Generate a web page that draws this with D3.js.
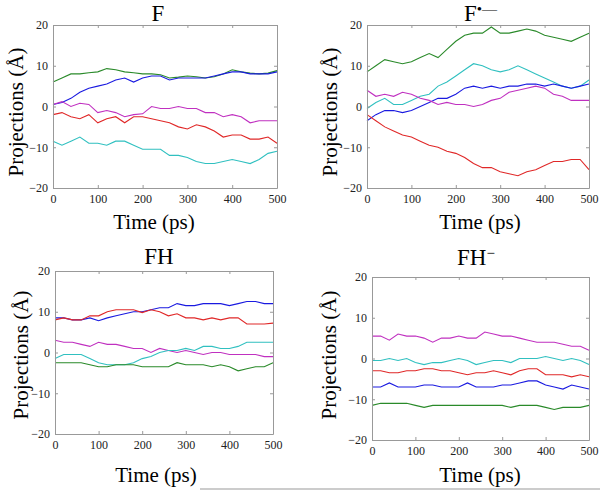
<!DOCTYPE html>
<html>
<head>
<meta charset="utf-8">
<script src="https://cdn.jsdelivr.net/npm/d3@7"></script>
<style>
  body { margin: 0; background: #fff; }
  svg text { font-family: "Liberation Serif", "Times New Roman", Times, "DejaVu Serif", serif; }
  .tick text { font-size: 12px; fill: #222; }
</style>
</head>
<body>
<svg id="chart" width="600" height="490"></svg>
<script>
// time samples (ps)
const time = [0,20,40,60,80,100,120,140,160,180,200,220,240,260,280,300,320,340,360,380,400,420,440,460,480,500];
const xTicks = [0,100,200,300,400,500];
const yTicks = [-20,-10,0,10,20];
const seriesColors = {green: '#2a8a2a', blue: '#1a1ae0', magenta: '#c030c0', red: '#e02828', cyan: '#30c0c0'};
const serif = '"Liberation Serif", "Times New Roman", Times, serif';

// panel F
const fGreen   = [6,7,8,8,8.3,8.5,9.3,9,8.5,8.3,8,8,7.8,7,7.2,7.5,7.3,7,7.3,8,9,8.5,8.2,8,8.2,8.8];
const fBlue    = [0.5,1,2,3.5,4.5,5,5.5,6.5,7,6,7,7.5,7.5,6.5,7,7,7,7,7.5,8,8.5,8.5,8,8,8,8.5];
const fMagenta = [0.5,1.2,0,0.8,0.5,-1.5,-1,-1.5,-2.5,-2,-1.8,0,-0.5,-0.5,0,-0.5,-0.5,-1.5,-1.5,-2.5,-2,-2.5,-4,-3.5,-3.5,-3.5];
const fRed     = [-2,-1.5,-2.5,-3,-2,-4,-3,-2.5,-4,-2.5,-2.5,-3,-3.5,-4,-5,-5.5,-4.5,-5,-6,-7.5,-7,-7,-8,-8,-7.5,-9];
const fCyan    = [-8.5,-9.5,-8.5,-7.5,-9,-9,-9.5,-8.5,-8.5,-9.5,-10.5,-10.5,-10.5,-12,-12,-12.5,-13.5,-14,-14,-13.5,-13,-13.5,-14,-13,-11.5,-11];

// panel F radical anion
const frGreen   = [8.5,10,11.5,11,10.5,11,12,13,12,14,16,17.5,18,18,19.5,18,18,18.5,19,18.5,17.5,17,16.5,16,17,18];
const frCyan    = [-0.5,1,2,0.5,0.5,1.5,2.5,3,5,6,7.5,9,10.5,10,9,8.5,9,10,9,8,7,6,5,4.5,5,6.5];
const frBlue    = [-3.5,-2,-1,-1,-1.5,-1,0,1,2,2,3,4.5,5,4.5,5,4.5,5,5,5.5,5.5,5,5.5,5,4.5,5,5.5];
const frMagenta = [4,2.5,3,2.5,3.5,3,2,1.5,0.5,1,0.5,0.5,0,0.5,1.5,2,3.5,4,4.5,5,4.5,3,2.5,1.5,1.5,1.5];
const frRed     = [-2,-3.5,-5,-6,-7,-7.5,-8.5,-9.5,-10,-11,-11.5,-12.5,-14,-15,-15,-16,-16.5,-17,-16,-15.5,-14.5,-13.5,-13.5,-13,-13,-15.5];

// panel FH
const fhBlue    = [8.5,8.5,8,8,8.5,7.8,8.5,9,9.5,10,10,10.5,11,11,12,11.5,11.5,12,12,12,11.5,12,12.5,12.5,12,12];
const fhRed     = [8,8.5,8,8,9,9,10,10.5,10.5,10.5,9.8,10.5,10,9,9.5,8.5,8.5,8,8.5,8,8.5,8.5,7,7,7,7.2];
const fhMagenta = [3,2.5,2.5,2,1.5,2.5,2,2,1.5,1,1,0,1,0.5,0,0.5,0,-0.5,0,0,-0.5,-0.5,-0.5,-0.5,-1,-1];
const fhCyan    = [-1.5,-0.5,-0.5,-0.5,-1.5,-2.5,-3,-3,-3,-2.5,-1.5,-1,0,0.5,0.5,1,0.5,1.5,1.5,1,1,1.5,2.5,2.5,2.5,2.5];
const fhGreen   = [-2.5,-2.5,-2.5,-2.5,-3,-3.5,-3.5,-3,-3,-3,-3.5,-3.5,-3.5,-3.5,-2.5,-3,-3,-3,-3.5,-3,-3.5,-4.5,-4,-3.5,-3.5,-2.5];

// panel FH anion
const fhaMagenta = [5.5,5.5,4.5,6,5.5,5.5,5,4,5,5,5.5,5,5,6.5,6,5.5,5.5,5,4.5,4,4,4,3.5,3,3,2];
const fhaCyan    = [-0.5,-0.5,0,-0.5,0,-1,-1.5,-1,-1,-0.5,0,-0.5,-1.5,-1,-0.5,-0.5,-1,0,0,0,0.5,0,-0.5,0,-0.5,-1.5];
const fhaRed     = [-3,-3,-3.5,-3.5,-3,-3,-2.5,-2.5,-3,-3,-3.5,-4,-3.5,-3.5,-3,-3.5,-4,-3,-2.5,-2.5,-4,-4,-4,-4.5,-4,-4.5];
const fhaBlue    = [-7,-7,-6,-7,-7,-7,-6.5,-6.5,-7,-7,-7,-6,-7,-7,-7,-6.5,-6.5,-6,-5.5,-5.5,-6.5,-7,-7.5,-6.5,-7,-7.5];
const fhaGreen   = [-11.5,-11,-11,-11,-11,-11.5,-12,-11.5,-11.5,-11.5,-11.5,-11.5,-11.5,-11.5,-11.5,-11.5,-12,-11.5,-11.5,-11.5,-12,-12.5,-12,-12,-12,-11.5];

const panels = [
  {title: 'F', sup: null, box: {l: 53, r: 277, t: 25, b: 188}, titleX: 158, titleY: 21,
   xLabelX: 154, xLabelY: 229, yLabelX: 23, yLabelY: 112,
   series: [['green', fGreen], ['blue', fBlue], ['magenta', fMagenta], ['red', fRed], ['cyan', fCyan]]},
  {title: 'F', sup: '•—', box: {l: 367, r: 589, t: 25, b: 188}, titleX: 464, titleY: 21,
   xLabelX: 480, xLabelY: 229, yLabelX: 337, yLabelY: 112,
   series: [['green', frGreen], ['cyan', frCyan], ['blue', frBlue], ['magenta', frMagenta], ['red', frRed]]},
  {title: 'FH', sup: null, box: {l: 55, r: 273, t: 271, b: 434}, titleX: 159, titleY: 264,
   xLabelX: 156, xLabelY: 482, yLabelX: 28, yLabelY: 355,
   series: [['blue', fhBlue], ['red', fhRed], ['magenta', fhMagenta], ['cyan', fhCyan], ['green', fhGreen]]},
  {title: 'FH', sup: '−', box: {l: 372, r: 589, t: 277, b: 440}, titleX: 457, titleY: 265,
   xLabelX: 480, xLabelY: 482, yLabelX: 336, yLabelY: 355,
   series: [['magenta', fhaMagenta], ['cyan', fhaCyan], ['red', fhaRed], ['blue', fhaBlue], ['green', fhaGreen]]}
];

const svg = d3.select('#chart');

panels.forEach(p => {
  const b = p.box;
  const w = b.r - b.l, h = b.b - b.t;
  const x = d3.scaleLinear().domain([0, 500]).range([0, w]);
  const y = d3.scaleLinear().domain([-20, 20]).range([h, 0]);

  const g = svg.append('g').attr('transform', `translate(${b.l},${b.t})`);

  // lines
  const line = d3.line().x((d, i) => x(time[i])).y(d => y(d));
  p.series.forEach(([c, vals]) => {
    g.append('path')
        .attr('d', line(vals))
        .attr('fill', 'none')
        .attr('stroke', seriesColors[c])
        .attr('stroke-width', 1.1);
  });

  // axes, ticks inward on all four sides
  const axes = [
    [d3.axisBottom(x).tickValues(xTicks).tickSize(-3).tickPadding(6), `translate(0,${h})`],
    [d3.axisTop(x).tickValues(xTicks).tickSize(-3).tickFormat(''), null],
    [d3.axisLeft(y).tickValues(yTicks).tickSize(-3).tickPadding(5), null],
    [d3.axisRight(y).tickValues(yTicks).tickSize(-3).tickFormat(''), `translate(${w},0)`]
  ];
  axes.forEach(([ax, tr]) => {
    const a = g.append('g').call(ax.tickSizeOuter(0));
    if (tr) a.attr('transform', tr);
    a.attr('font-family', serif).attr('font-size', 12);
    a.select('.domain').attr('stroke', '#999');
    a.selectAll('.tick line').attr('stroke', '#999');
  });

  // title
  const t = svg.append('text')
      .attr('x', p.titleX)
      .attr('y', p.titleY)
      .attr('font-family', serif)
      .attr('font-size', 23)
      .attr('text-anchor', p.sup ? 'start' : 'middle')
      .text(p.title);
  if (p.sup) {
    t.append('tspan')
        .attr('font-size', 15)
        .attr('dy', -7)
        .text(p.sup);
  }

  svg.append('text')
      .attr('x', p.xLabelX)
      .attr('y', p.xLabelY)
      .attr('font-family', serif)
      .attr('font-size', 21)
      .attr('text-anchor', 'middle')
      .text('Time (ps)');

  svg.append('text')
      .attr('transform', `translate(${p.yLabelX},${p.yLabelY}) rotate(-90)`)
      .attr('font-family', serif)
      .attr('font-size', 21)
      .attr('text-anchor', 'middle')
      .text('Projections (Å)');
});

svg.append('line')
    .attr('x1', 200).attr('x2', 600)
    .attr('y1', 489).attr('y2', 489)
    .attr('stroke', '#999');
</script>
</body>
</html>
